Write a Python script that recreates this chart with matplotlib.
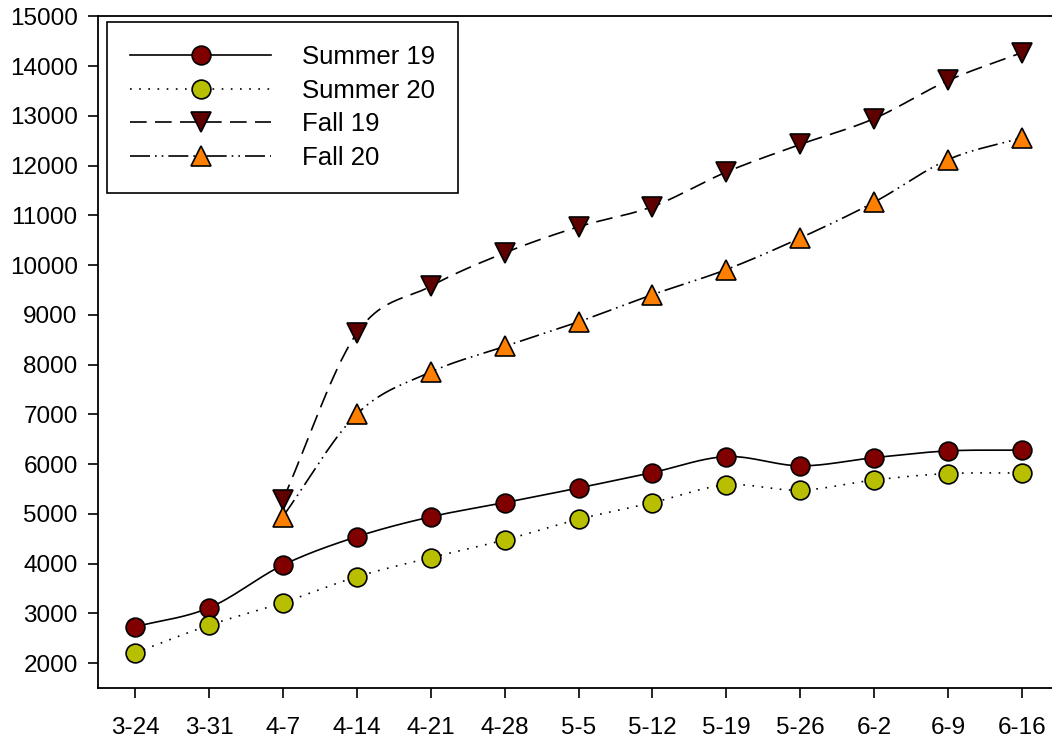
import numpy as np
import matplotlib
matplotlib.use('Agg')
import matplotlib.pyplot as plt
from matplotlib.lines import Line2D

plt.rcParams['font.family'] = ['Liberation Sans', 'DejaVu Sans']

# data
weeks = ['3-24', '3-31', '4-7', '4-14', '4-21', '4-28', '5-5', '5-12',
         '5-19', '5-26', '6-2', '6-9', '6-16']
summer19 = [2730, 3110, 3970, 4540, 4940, 5225, 5520, 5830, 6150, 5965, 6130, 6265, 6280]
summer20 = [2205, 2760, 3215, 3735, 4120, 4475, 4890, 5225, 5580, 5475, 5680, 5810, 5820]
fall19 = [np.nan, np.nan, 5280, 8630, 9575, 10245, 10770, 11175, 11870, 12425, 12945, 13710, 14270]
fall20 = [np.nan, np.nan, 4945, 7005, 7850, 8365, 8860, 9405, 9910, 10545, 11265, 12120, 12560]
labels = ['Summer 19', 'Summer 20', 'Fall 19', 'Fall 20']


def smooth(x, y, n=30):
    # cubic hermite (catmull-rom) through the points, like the original spline lines
    x = np.asarray(x, float)
    y = np.asarray(y, float)
    ok = ~np.isnan(y)
    x, y = x[ok], y[ok]
    m = np.zeros_like(y)
    m[0] = (y[1] - y[0]) / (x[1] - x[0])
    m[-1] = (y[-1] - y[-2]) / (x[-1] - x[-2])
    m[1:-1] = (y[2:] - y[:-2]) / (x[2:] - x[:-2])
    xs, ys = [], []
    for i in range(len(x) - 1):
        h = x[i + 1] - x[i]
        t = np.linspace(0, 1, n)
        h00 = 2 * t**3 - 3 * t**2 + 1
        h10 = t**3 - 2 * t**2 + t
        h01 = -2 * t**3 + 3 * t**2
        h11 = t**3 - t**2
        xs.append(x[i] + t * h)
        ys.append(h00 * y[i] + h10 * h * m[i] + h01 * y[i + 1] + h11 * h * m[i + 1])
    return np.concatenate(xs), np.concatenate(ys)


fig = plt.figure(figsize=(10.52, 7.4), dpi=100)
ax = fig.add_axes([0.0932, 0.0703, 0.91, 0.9077])

xpos = np.arange(len(weeks))
series = [summer19, summer20, fall19, fall20]
styles = ['-', (0, (1, 4.5)), (0, (10, 5)), (0, (12, 3, 1, 3, 1, 3))]
markers = ['o', 'o', 'v', '^']
faces = ['#800000', '#b8bf00', '#5e0000', '#ff8000']
sizes = [13.5, 13.5, 14, 14]

handles = []
for vals, ls, mk, fc, ms, lab in zip(series, styles, markers, faces, sizes, labels):
    sx, sy = smooth(xpos, vals)
    ax.plot(sx, sy, color='black', ls=ls, lw=1.2, zorder=2)
    ax.plot(xpos, vals, ls='none', marker=mk, ms=ms, mfc=fc, mec='black', mew=1.2, zorder=3)
    handles.append(Line2D([], [], color='black', ls=ls, lw=1.2, marker=mk, ms=ms,
                          mfc=fc, mec='black', mew=1.2, label=lab))

ax.set_xlim(-0.5, 12.45)
ax.set_ylim(1500, 15000)
ax.set_xticks(xpos)
ax.set_xticklabels(weeks)
ax.set_yticks(np.arange(2000, 15001, 1000))
ax.tick_params(direction='out', length=7.2, width=1.2, labelsize=17.5)
ax.tick_params(axis='x', pad=14)
ax.tick_params(axis='y', pad=7.5)
ax.spines['right'].set_visible(False)
for s in ['left', 'top', 'bottom']:
    ax.spines[s].set_linewidth(1.3)

leg = ax.legend(handles=handles, loc='upper left', bbox_to_anchor=(0.0094, 0.991),
                borderaxespad=0, fontsize=18.5, handlelength=5.5, handletextpad=1.17,
                labelspacing=0.37, borderpad=0.9, fancybox=False, framealpha=1,
                edgecolor='black')
leg.get_frame().set_linewidth(1.2)

plt.savefig('out.png', dpi=100)
